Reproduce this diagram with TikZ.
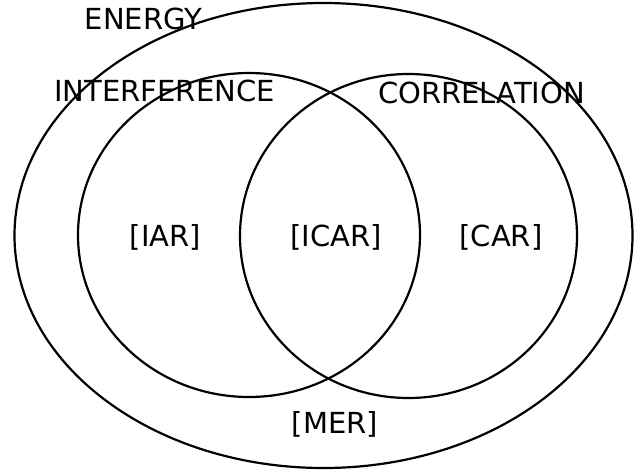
\documentclass[tikz,border=0pt]{standalone}
\usepackage{fontspec}
\setmainfont{DejaVu Sans}
\begin{document}
\begin{tikzpicture}[x=1pt,y=-1pt,
  ring/.style={draw=black,line width=2.2pt},
  lbl/.style={font=\fontsize{29}{34}\selectfont,inner sep=0pt,anchor=center}]
\useasboundingbox (0,0) rectangle (641,472);
\draw[ring] (323.5,235.5) ellipse [x radius=309, y radius=232.5];
\draw[ring] (249,235) ellipse [x radius=171, y radius=162];
\draw[ring] (408.5,236) ellipse [x radius=168.5, y radius=162];
\node[lbl] (energy) at (143.5,18.5) {ENERGY};
\node[lbl] (interf) at (164.5,91) {INTERFERENCE};
\node[lbl] (corr) at (481.5,92.5) {CORRELATION};
\node[lbl] (iar) at (165.5,237.5) {[IAR]};
\node[lbl] (icar) at (336,237.5) {[ICAR]};
\node[lbl] (car) at (501,237.5) {[CAR]};
\node[lbl] (mer) at (335,424.5) {[MER]};
\end{tikzpicture}
\end{document}
